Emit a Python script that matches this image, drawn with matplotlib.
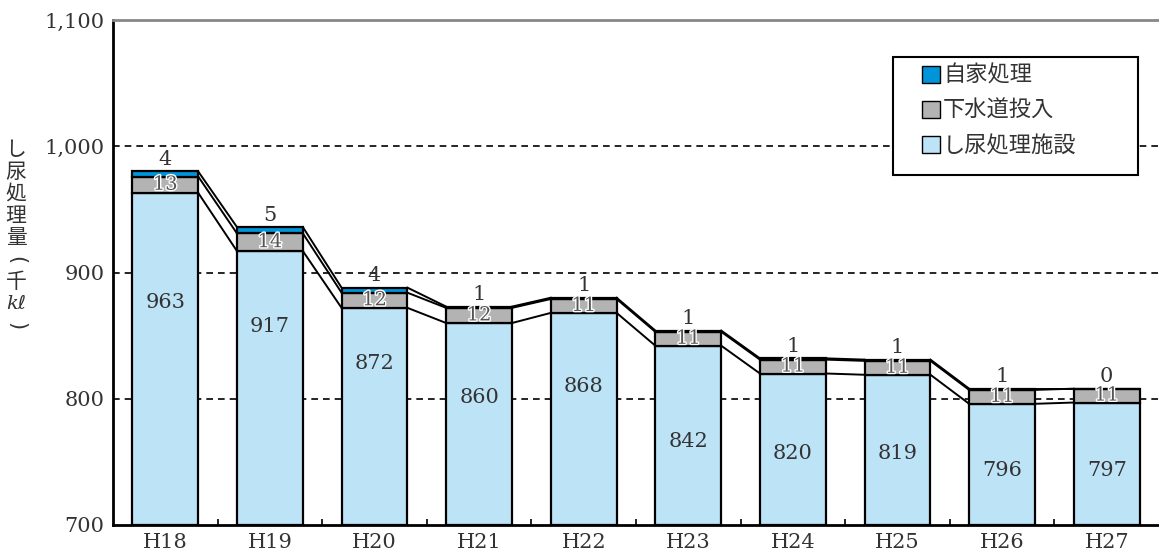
import numpy as np
import matplotlib.pyplot as plt
import matplotlib.patheffects as pe
from matplotlib.patches import Patch, Rectangle

# データ
years = ['H18', 'H19', 'H20', 'H21', 'H22', 'H23', 'H24', 'H25', 'H26', 'H27']
shinyo = [963, 917, 872, 860, 868, 842, 820, 819, 796, 797]   # し尿処理施設
gesui = [13, 14, 12, 12, 11, 11, 11, 11, 11, 11]               # 下水道投入
jika = [4, 5, 4, 1, 1, 1, 1, 1, 1, 0]                          # 自家処理

# 施設の数値ラベルの高さ (元図の配置)
label_y = [876, 857, 828, 801, 810, 766, 757, 757, 743, 743]

c_shinyo = '#BDE3F7'
c_gesui = '#B3B3B3'
c_jika = '#0095D9'
txt = '#333333'
serif = ['DejaVu Serif', 'DejaVu Sans', 'Noto Sans CJK JP']
jp = ['Noto Sans CJK JP', 'DejaVu Sans']
W, H = 1159, 557

fig = plt.figure(figsize=(W/100, H/100), dpi=100)
ax = fig.add_axes([113/W, 32/H, 1046/W, 505/H])

x = np.arange(len(years))
w = 0.63
shinyo = np.array(shinyo)
gesui = np.array(gesui)
jika = np.array(jika)

ax.bar(x, shinyo - 700, w, bottom=700, color=c_shinyo, edgecolor='black', lw=1.6, zorder=3)
ax.bar(x, gesui, w, bottom=shinyo, color=c_gesui, edgecolor='black', lw=1.6, zorder=3)
ax.bar(x, jika, w, bottom=shinyo + gesui, color=c_jika, edgecolor='black', lw=1.6, zorder=3)

# 棒の間をつなぐ線
for lvl in [shinyo, shinyo + gesui, shinyo + gesui + jika]:
    for i in range(len(x) - 1):
        ax.plot([x[i] + w/2, x[i+1] - w/2], [lvl[i], lvl[i+1]], color='black', lw=1.4, zorder=3)

# ラベル
for i in range(len(x)):
    ax.text(x[i], label_y[i], str(shinyo[i]), ha='center', va='center', fontsize=15,
            family=serif, color=txt, zorder=4)
    ax.text(x[i], shinyo[i] + gesui[i] / 2, str(gesui[i]), ha='center', va='center', fontsize=14,
            family=serif, color='#555555', zorder=4,
            path_effects=[pe.withStroke(linewidth=2, foreground='white')])
    ax.text(x[i], shinyo[i] + gesui[i] + jika[i] + 2, str(jika[i]), ha='center', va='bottom',
            fontsize=15, family=serif, color=txt, zorder=4)

ax.set_xlim(-0.5, len(x) - 0.5)
ax.set_ylim(700, 1100)
ax.set_yticks([700, 800, 900, 1000, 1100])
ax.set_yticklabels(['700', '800', '900', '1,000', '1,100'], family=serif, fontsize=15, color=txt)
ax.set_xticks(x)
ax.set_xticklabels(years, family=serif, fontsize=15, color=txt)
ax.tick_params(axis='both', length=0, pad=6)
ax.set_xticks(x[:-1] + 0.5, minor=True)
ax.tick_params(axis='x', which='minor', direction='in', length=4, width=1.2)

for yv in [800, 900, 1000]:
    ax.axhline(yv, color='black', lw=1.2, ls=(0, (4, 3)), zorder=1)

ax.spines['right'].set_visible(False)
ax.spines['top'].set_color('#888888')
ax.spines['top'].set_linewidth(2)
ax.spines['left'].set_linewidth(2)
ax.spines['bottom'].set_linewidth(2)

# 凡例 (枠は手描き)
fig.patches.append(Rectangle((893/W, 1 - 175/H), 245/W, 118/H, transform=fig.transFigure,
                             facecolor='white', edgecolor='black', lw=1.5, zorder=5))
handles = [Patch(facecolor=c_jika, edgecolor='black', label='自家処理'),
           Patch(facecolor=c_gesui, edgecolor='black', label='下水道投入'),
           Patch(facecolor=c_shinyo, edgecolor='black', label='し尿処理施設')]
leg = fig.legend(handles=handles, loc='upper left', bbox_to_anchor=(922/W, 1 - 64/H),
                 prop={'family': jp, 'size': 16}, frameon=False,
                 handlelength=0.8, handleheight=0.8, handletextpad=0.15,
                 labelspacing=0.55, borderpad=0, borderaxespad=0)
leg.set_zorder(6)
for t in leg.get_texts():
    t.set_color(txt)

# 縦書きの軸ラベル (1文字ずつ配置)
ylab = ['し', '尿', '処', '理', '量', '(', '千', 'kℓ', ')']
for k, ch in enumerate(ylab):
    yy = 1 - (150 + 22 * k) / H
    if ch in '()':
        fig.text(16/W, yy, ch, ha='center', va='center', family=['DejaVu Sans'], fontsize=15,
                 color=txt, rotation=-90)
    elif ch == 'kℓ':
        fig.text(16/W, yy, ch, ha='center', va='center', family=serif, style='italic',
                 fontsize=14, color=txt)
    else:
        fig.text(16/W, yy, ch, ha='center', va='center', family=jp, fontsize=15, color=txt)

fig.savefig('out.png', dpi=100)
